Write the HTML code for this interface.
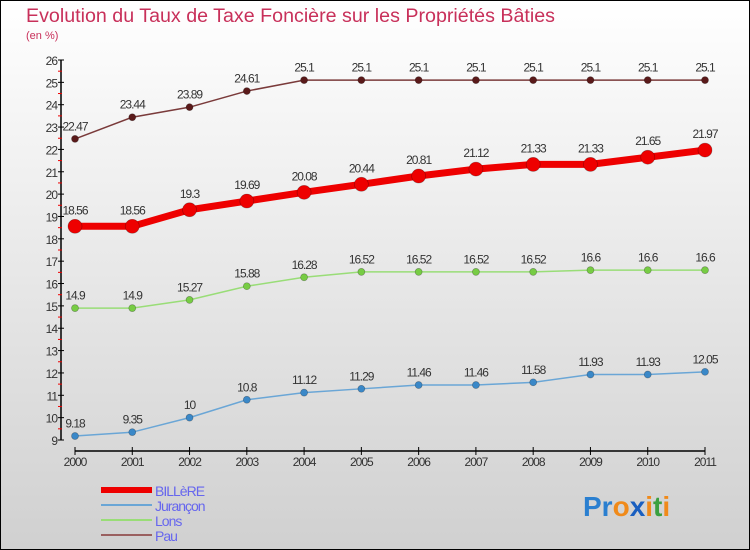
<!DOCTYPE html>
<html><head><meta charset="utf-8"><style>
body{margin:0}
svg{display:block;font-family:"Liberation Sans",sans-serif}
</style></head><body>
<svg id="chart" width="750" height="550" xmlns="http://www.w3.org/2000/svg">
<defs><linearGradient id="bg" x1="0" y1="0" x2="0" y2="1"><stop offset="0" stop-color="#ffffff"/><stop offset="1" stop-color="#d0d0d0"/></linearGradient></defs>
<rect x="0.5" y="0.5" width="749" height="549" fill="url(#bg)" stroke="#000"/>
<text x="26" y="22" font-size="19" fill="#c8305a" textLength="529" lengthAdjust="spacingAndGlyphs">Evolution du Taux de Taxe Foncière sur les Propriétés Bâties</text>
<text x="26" y="39" font-size="11" fill="#c8305a">(en %)</text>
<g id="axes"></g>
<g id="series"></g>
<g id="legend"></g>
<text x="583" y="516" font-size="28" font-weight="bold"><tspan fill="#2a7fd0">Pr</tspan><tspan fill="#f08a1a">o</tspan><tspan fill="#1a5fc0">x</tspan><tspan fill="#f08a1a">i</tspan><tspan fill="#3aa040">t</tspan><tspan fill="#f08a1a">i</tspan></text>
</svg>
<script>
const years=[2000,2001,2002,2003,2004,2005,2006,2007,2008,2009,2010,2011];
const billere=[18.56,18.56,19.3,19.69,20.08,20.44,20.81,21.12,21.33,21.33,21.65,21.97];
const jurancon=[9.18,9.35,10,10.8,11.12,11.29,11.46,11.46,11.58,11.93,11.93,12.05];
const lons=[14.9,14.9,15.27,15.88,16.28,16.52,16.52,16.52,16.52,16.6,16.6,16.6];
const pau=[22.47,23.44,23.89,24.61,25.1,25.1,25.1,25.1,25.1,25.1,25.1,25.1];
const billereLabels=["18.56","18.56","19.3","19.69","20.08","20.44","20.81","21.12","21.33","21.33","21.65","21.97"];
const juranconLabels=["9.18","9.35","10","10.8","11.12","11.29","11.46","11.46","11.58","11.93","11.93","12.05"];
const lonsLabels=["14.9","14.9","15.27","15.88","16.28","16.52","16.52","16.52","16.52","16.6","16.6","16.6"];
const pauLabels=["22.47","23.44","23.89","24.61","25.1","25.1","25.1","25.1","25.1","25.1","25.1","25.1"];
const yTicks=[9,10,11,12,13,14,15,16,17,18,19,20,21,22,23,24,25,26];
const NS="http://www.w3.org/2000/svg";
const X=i=>75+i*(630/11);
const Y=v=>440-(v-9)*(380/17);
function mk(tag,attrs,parent){const e=document.createElementNS(NS,tag);for(const k in attrs)e.setAttribute(k,attrs[k]);parent.appendChild(e);return e;}
const axes=document.getElementById('axes');
const yl=mk('line',{x1:61,y1:Y(26),x2:61,y2:Y(9),stroke:'#000','stroke-width':1.5},axes);


yTicks.forEach(v=>{
  const t=mk('line',{x1:58,y1:Y(v),x2:64,y2:Y(v),stroke:'#000'},axes);
  
  
  if(v<26){const m=mk('line',{x1:58,y1:Y(v+0.5),x2:62,y2:Y(v+0.5),stroke:'#e00'},axes);
  
  }
  const tx=mk('text',{x:57,y:Y(v)+5,'font-size':12,'text-anchor':'end',fill:'#333','letter-spacing':'-1'},axes);
  tx.textContent=v;
  
  
});
const xl=mk('line',{x1:X(0),y1:451,x2:X(11),y2:451,stroke:'#000','stroke-width':1.5},axes);


years.forEach((y,i)=>{
  const t=mk('line',{x1:X(i),y1:447,x2:X(i),y2:455,stroke:'#000'},axes);
  
  
  const tx=mk('text',{x:X(i),y:466,'font-size':12,'text-anchor':'middle',fill:'#333','letter-spacing':'-1'},axes);
  tx.textContent=y;
  
  
});
const ser=document.getElementById('series');
const defs=[
 {name:'pau',vals:pau,labels:pauLabels,color:'#7a3a3a',dot:'#5a1a1a',w:1.5,r:3.5},
 {name:'lons',vals:lons,labels:lonsLabels,color:'#99dd77',dot:'#77cc44',w:1.5,r:3.5},
 {name:'jurancon',vals:jurancon,labels:juranconLabels,color:'#6aa6d6',dot:'#3a88c8',w:1.5,r:3.5},
 {name:'billere',vals:billere,labels:billereLabels,color:'#ee0000',dot:'#ee0000',w:7,r:7}
];
defs.forEach(d=>{
  const g=mk('g',{},ser);
  
  
  const p=mk('polyline',{points:d.vals.map((v,i)=>X(i)+','+Y(v)).join(' '),fill:'none',stroke:d.color,'stroke-width':d.w},g);
  
  
  d.vals.forEach((v,i)=>{
    const c=mk('circle',{cx:X(i),cy:Y(v),r:d.r,fill:d.dot,stroke:'rgba(0,0,0,0.3)','stroke-width':0.7},g);
    
    
    const t=mk('text',{x:X(i),y:Y(v)-(d.r+5),'font-size':12,'text-anchor':'middle',fill:'#333','letter-spacing':'-1'},g);
    t.textContent=d.labels[i];
    
    
  });
});
const leg=document.getElementById('legend');
const items=[['BILLèRE','#ee0000',6],['Jurançon','#6aa6d6',2],['Lons','#99dd77',2],['Pau','#9a6060',2]];
items.forEach((it,i)=>{
  const y=490+i*15;
  const l=mk('line',{x1:101,y1:y,x2:152,y2:y,stroke:it[1],'stroke-width':it[2]},leg);
  
  
  const t=mk('text',{x:155,y:y+6,'font-size':14,fill:'#6666ee','letter-spacing':'-1'},leg);
  t.textContent=it[0];
  
  
});
</script>
</body></html>
